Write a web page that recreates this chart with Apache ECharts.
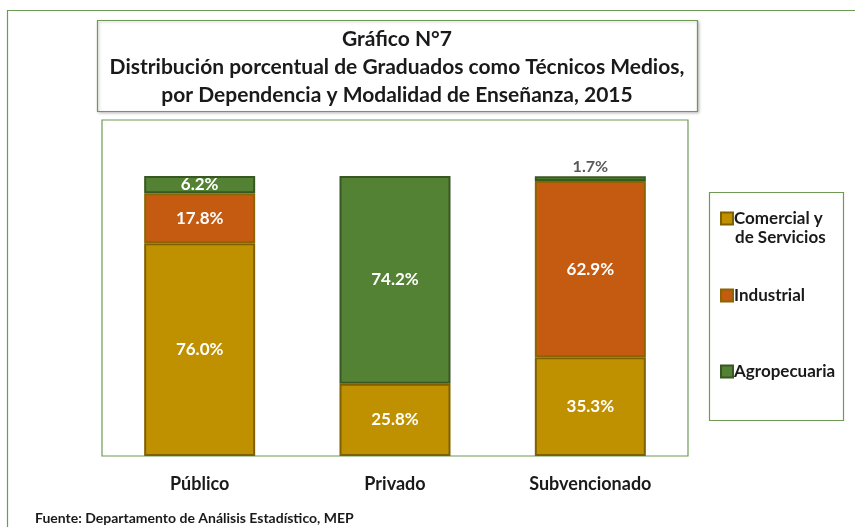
<!DOCTYPE html>
<html>
<head>
<meta charset="utf-8">
<script src="https://cdn.jsdelivr.net/npm/echarts@6/dist/echarts.min.js"></script>
<style>
  html, body { margin: 0; padding: 0; background: #fff; }
  #chart { width: 855px; height: 527px; }
</style>
</head>
<body>
<div id="chart"></div>
<script>
// datos
var categories = ['Público', 'Privado', 'Subvencionado'];
var comercial = [76.0, 25.8, 35.3];
var industrial = [17.8, null, 62.9];
var agropecuaria = [6.2, 74.2, 1.7];
var seriesNames = ['Comercial y de Servicios', 'Industrial', 'Agropecuaria'];

var FONT = 'Lato';
var GREEN_LINE = '#6f9a55';

function pctLabel(p) {
    if (p.value == null) return '';
    return p.value.toFixed(1) + '%';
}

var baseLabel = {
    show: true,
    position: 'inside',
    color: '#ffffff',
    fontFamily: FONT,
    fontWeight: 'bold',
    fontSize: 17,
    formatter: pctLabel
};

// el 1.7% va arriba de la barra, en gris
var agroData = agropecuaria.map(function (v, i) {
    if (v < 3) {
        return { value: v, label: { position: 'top', color: '#595959', distance: 1, fontSize: 16 } };
    }
    return v;
});

var chart = echarts.init(document.getElementById('chart'));

chart.setOption({
    animation: false,
    backgroundColor: '#ffffff',
    title: {
        text: 'Gráfico N°7\nDistribución porcentual de Graduados como Técnicos Medios,\npor Dependencia y Modalidad de Enseñanza, 2015',
        left: 397,
        top: 25,
        padding: 0,
        textAlign: 'center',
        textStyle: {
            fontFamily: FONT,
            fontWeight: 'bold',
            fontSize: 21,
            lineHeight: 28,
            color: '#1a1a1a'
        }
    },
    legend: [0, 1, 2].map(function (i) {
        var tops = [205, 282, 358];
        return {
            data: [seriesNames[i]],
            left: 715,
            top: tops[i],
            itemWidth: 12,
            itemHeight: 12,
            itemGap: 0,
            icon: 'rect',
            selectedMode: false,
            formatter: function (name) {
                return name === 'Comercial y de Servicios' ? 'Comercial y' : name;
            },
            textStyle: {
                fontFamily: FONT,
                fontWeight: 'bold',
                fontSize: 17,
                color: '#1a1a1a',
                padding: [0, 0, 0, -4]
            }
        };
    }),
    grid: {
        left: 102,
        right: 855 - 688,
        top: 120,
        bottom: 527 - 456,
        show: true,
        borderColor: GREEN_LINE,
        borderWidth: 1.2,
        backgroundColor: '#ffffff'
    },
    xAxis: {
        type: 'category',
        data: categories,
        axisLine: { show: false },
        axisTick: { show: false },
        axisLabel: {
            margin: 19,
            fontFamily: FONT,
            fontWeight: 'bold',
            fontSize: 18,
            color: '#1a1a1a'
        }
    },
    yAxis: {
        type: 'value',
        min: 0,
        max: 120,
        show: false
    },
    series: [
        {
            name: seriesNames[0],
            type: 'bar',
            stack: 'total',
            barWidth: 111,
            data: comercial,
            itemStyle: { color: '#bf9000', borderColor: '#7f6000', borderWidth: 2 },
            label: baseLabel
        },
        {
            name: seriesNames[1],
            type: 'bar',
            stack: 'total',
            data: industrial,
            itemStyle: { color: '#c55a11', borderColor: '#8a6500', borderWidth: 2 },
            label: baseLabel
        },
        {
            name: seriesNames[2],
            type: 'bar',
            stack: 'total',
            data: agroData,
            itemStyle: { color: '#548235', borderColor: '#385723', borderWidth: 2 },
            label: baseLabel
        }
    ],
    graphic: [
        // marco exterior
        {
            type: 'rect', z: -10, silent: true,
            shape: { x: 7.5, y: 10.5, width: 900, height: 600 },
            style: { fill: '#ffffff', stroke: GREEN_LINE, lineWidth: 1.2 }
        },
        // caja del titulo
        {
            type: 'rect', z: -5, silent: true,
            shape: { x: 97.5, y: 20.5, width: 600, height: 91 },
            style: {
                fill: '#ffffff', stroke: GREEN_LINE, lineWidth: 1.2,
                shadowBlur: 3, shadowColor: 'rgba(0,0,0,0.25)', shadowOffsetX: 1, shadowOffsetY: 1
            }
        },
        // caja de la leyenda
        {
            type: 'rect', z: -5, silent: true,
            shape: { x: 709.5, y: 192.5, width: 134, height: 228 },
            style: { fill: '#ffffff', stroke: GREEN_LINE, lineWidth: 1.2 }
        },
        // segunda linea de la primera leyenda
        {
            type: 'text', silent: true,
            left: 735, top: 229,
            style: {
                text: 'de Servicios',
                fontFamily: FONT, fontWeight: 'bold', fontSize: 17, fill: '#1a1a1a'
            }
        },
        {
            type: 'text', silent: true,
            left: 35, top: 511,
            style: {
                text: 'Fuente: Departamento de Análisis Estadístico, MEP',
                fontFamily: FONT, fontWeight: 'bold', fontSize: 14, fill: '#1a1a1a'
            }
        }
    ]
});
</script>
</body>
</html>
